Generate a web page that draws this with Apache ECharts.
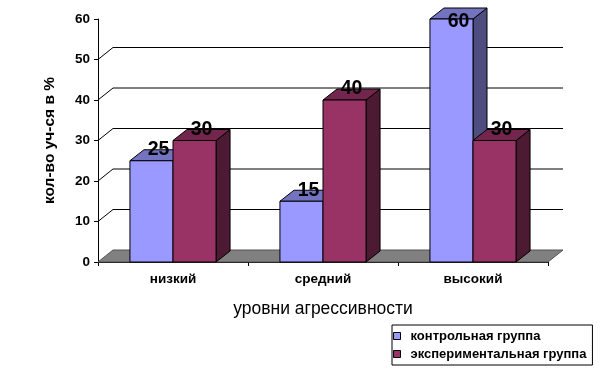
<!DOCTYPE html>
<html><head><meta charset="utf-8">
<script src="https://cdn.jsdelivr.net/npm/echarts@6/dist/echarts.min.js"></script>
<style>html,body{margin:0;padding:0;background:#fff}#c{width:603px;height:375px}</style>
</head><body><div id="c"></div>
<script>
const categories = ['низкий', 'средний', 'высокий'];
const controlValues = [25, 15, 60];
const experimentalValues = [30, 40, 30];
const seriesNames = ['контрольная группа', 'экспериментальная группа'];
const gridTicks = [10, 20, 30, 40, 50];
const xTitle = 'уровни агрессивности';
const yTitle = 'кол-во уч-ся в %';

const FONT = '"Liberation Sans", Arial, sans-serif';
const WALL_DX = 15, WALL_DY = -12, BAR_DX = 14, BAR_DY = -11;
const BLUE = {front: '#9999FF', top: '#7373C0', side: '#4D4D80'};
const MAROON = {front: '#993366', top: '#73264D', side: '#4D1A33'};

const chart = echarts.init(document.getElementById('c'), null, {renderer: 'canvas'});

function barRender(side, col) {
  return function (params, api) {
    const cat = api.value(0), val = api.value(1);
    const base = api.coord([cat, 0]);
    const top = api.coord([cat, val]);
    const band = api.size([1, 0])[0];
    const bw = band * 0.287;
    const x0 = side === 0 ? base[0] - bw : base[0];
    const x1 = x0 + bw;
    const ty = top[1], by = base[1];
    const dx = BAR_DX, dy = BAR_DY;
    const st = {stroke: '#000', lineWidth: 1};
    const labelY = Math.max(ty + dy, params.coordSys.y + 3);
    return {
      type: 'group',
      children: [
        {type: 'polygon', shape: {points: [[x1, ty], [x1 + dx, ty + dy], [x1 + dx, by + dy], [x1, by]]},
          style: Object.assign({fill: col.side}, st)},
        {type: 'polygon', shape: {points: [[x0, ty], [x0 + dx, ty + dy], [x1 + dx, ty + dy], [x1, ty]]},
          style: Object.assign({fill: col.top}, st)},
        {type: 'rect', shape: {x: x0, y: ty, width: bw, height: by - ty},
          style: Object.assign({fill: col.front}, st)},
        {type: 'text', x: x0 + bw / 2 + dx / 2, y: labelY, z2: 10,
          style: {text: String(val), fill: '#000', font: 'bold 19.5px ' + FONT, align: 'center', verticalAlign: 'middle'}}
      ]
    };
  };
}

function floorRender(params, api) {
  const cs = params.coordSys;
  const y = api.coord([0, 0])[1];
  return {
    type: 'polygon',
    shape: {points: [[cs.x, y], [cs.x + WALL_DX, y + WALL_DY], [cs.x + cs.width + WALL_DX, y + WALL_DY], [cs.x + cs.width, y]]},
    style: {fill: '#808080', stroke: '#555', lineWidth: 1}
  };
}

function wallRender(params, api) {
  const cs = params.coordSys;
  const y = api.coord([0, api.value(1)])[1];
  return {
    type: 'polyline',
    shape: {points: [[cs.x, y], [cs.x + WALL_DX, y + WALL_DY], [cs.x + cs.width + WALL_DX, y + WALL_DY]]},
    style: {stroke: '#000', lineWidth: 1, fill: null}
  };
}

chart.setOption({
  animation: false,
  backgroundColor: '#fff',
  grid: {left: 98, right: 55, top: 19, bottom: 113},
  xAxis: {
    type: 'category', data: categories, boundaryGap: true,
    axisLine: {lineStyle: {color: '#000', width: 1}},
    axisTick: {show: true, length: 4, interval: 0, lineStyle: {color: '#000'}},
    axisLabel: {color: '#000', fontWeight: 'bold', fontSize: 13.5, fontFamily: FONT, margin: 10},
    name: xTitle, nameLocation: 'middle', nameGap: 38,
    nameTextStyle: {color: '#000', fontSize: 17.5, fontFamily: FONT}
  },
  yAxis: {
    type: 'value', min: 0, max: 60, interval: 10,
    axisLine: {show: true, lineStyle: {color: '#000', width: 1}},
    axisTick: {show: true, length: 4, lineStyle: {color: '#000'}},
    splitLine: {show: false},
    axisLabel: {color: '#000', fontWeight: 'bold', fontSize: 13.5, fontFamily: FONT, margin: 8},
    name: yTitle, nameLocation: 'middle', nameGap: 40, nameRotate: 90,
    nameTextStyle: {color: '#000', fontSize: 15.5, fontWeight: 'bold', fontFamily: FONT}
  },
  legend: {
    orient: 'vertical', left: 392, top: 325,
    padding: [3, 6, 3, 1], itemGap: 2, itemWidth: 7, itemHeight: 7,
    borderColor: '#000', borderWidth: 1,
    textStyle: {color: '#000', fontWeight: 'bold', fontSize: 13, fontFamily: FONT, lineHeight: 16, padding: [0, 0, 0, 5]},
    data: [
      {name: seriesNames[0], icon: 'rect', itemStyle: {color: BLUE.front, borderColor: '#000', borderWidth: 1}},
      {name: seriesNames[1], icon: 'rect', itemStyle: {color: MAROON.front, borderColor: '#000', borderWidth: 1}}
    ]
  },
  series: [
    {type: 'custom', name: 'floor', renderItem: floorRender, data: [[0, 0]], silent: true},
    {type: 'custom', name: 'wall', renderItem: wallRender, data: gridTicks.map(v => [0, v]), silent: true},
    {type: 'custom', name: seriesNames[0], renderItem: barRender(0, BLUE), itemStyle: {color: BLUE.front},
      data: controlValues.map((v, i) => [i, v])},
    {type: 'custom', name: seriesNames[1], renderItem: barRender(1, MAROON), itemStyle: {color: MAROON.front},
      data: experimentalValues.map((v, i) => [i, v])}
  ]
});
</script>
</body></html>
